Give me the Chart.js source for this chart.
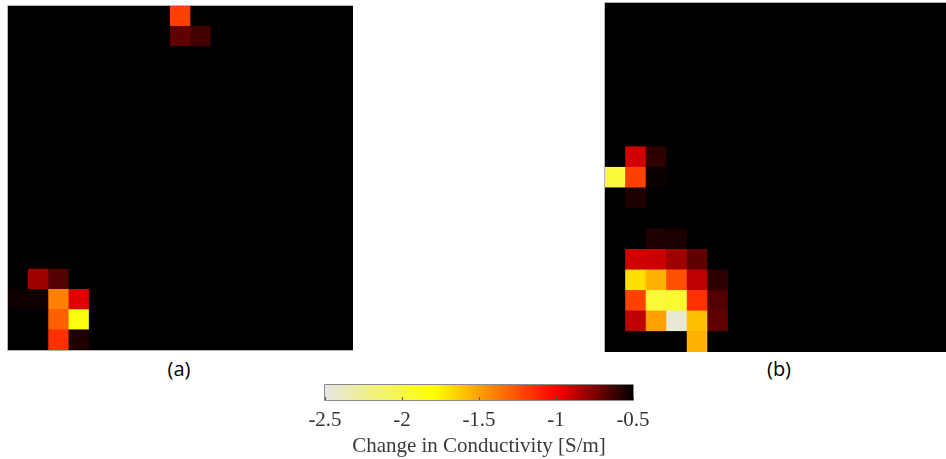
<!DOCTYPE html>
<html>
<head>
<meta charset="utf-8">
<script src="https://cdn.jsdelivr.net/npm/chart.js@4.4.1/dist/chart.umd.min.js"></script>
<style>
  html, body { margin:0; padding:0; background:#fff; }
  body { width:946px; height:459px; position:relative; overflow:hidden; }
  canvas { position:absolute; display:block; }
  .lbl { position:absolute; font-family:"Open Sans", sans-serif; font-size:20px; color:#000; transform:translate(-50%,-50%); white-space:nowrap; }
</style>
</head>
<body>
<canvas id="panelA" width="346" height="346" style="left:7px;top:5px;width:346px;height:346px"></canvas>
<canvas id="panelB" width="350" height="350" style="left:604px;top:2px;width:350px;height:350px"></canvas>
<canvas id="cbar" width="360" height="81" style="left:300px;top:380px;width:360px;height:81px"></canvas>
<div class="lbl" style="left:179px;top:368px">(a)</div>
<div class="lbl" style="left:779px;top:368px">(b)</div>
<script>
// ---------------- data ----------------
const gridSize = 17;                 // 17 x 17 cells per map
const backgroundValue = -0.5;        // value of every cell not listed below (S/m)

// Panel (a): column index, row index (0 = top), change in conductivity [S/m]
const aCol = [8, 8, 9, 1, 2, 0, 1, 2, 3, 2, 3, 2, 3];
const aRow = [0, 1, 1, 13, 13, 14, 14, 14, 14, 15, 15, 16, 16];
const aVal = [-1.20, -0.69, -0.63, -0.81, -0.66, -0.53, -0.53, -1.40, -0.94, -1.30, -1.84, -1.15, -0.56];

// Panel (b)
const bCol = [1, 2, 0, 1, 2, 1, 2, 3, 1, 2, 3, 4, 1, 2, 3, 4, 5, 1, 2, 3, 4, 5, 1, 2, 3, 4, 5, 4];
const bRow = [7, 7, 8, 8, 8, 9, 11, 11, 12, 12, 12, 12, 13, 13, 13, 13, 13, 14, 14, 14, 14, 14, 15, 15, 15, 15, 15, 16];
const bVal = [-0.91, -0.59, -1.97, -1.20, -0.52, -0.56, -0.56, -0.55, -0.91, -0.90, -0.81, -0.69,
              -1.69, -1.55, -1.25, -0.87, -0.59, -1.20, -1.97, -1.94, -1.15, -0.66,
              -0.87, -1.50, -2.45, -1.59, -0.69, -1.55];

// Colour bar
const cbMin = -2.5, cbMax = -0.5;
const cbTicks = [-2.5, -2, -1.5, -1, -0.5];
const cbTitle = 'Change in Conductivity [S/m]';

// colour map stops (value -> colour)
const cmapVals = [-2.5, -1.79, -1.0, -0.5];
const cmapCols = [[230,230,228], [255,255,0], [255,0,0], [0,0,0]];

// ---------------- helpers ----------------
function colorFor(v) {
  v = Math.max(cbMin, Math.min(cbMax, v));
  for (let i = 0; i < cmapVals.length - 1; i++) {
    const v0 = cmapVals[i], v1 = cmapVals[i+1];
    if (v >= v0 && v <= v1) {
      const t = (v - v0) / (v1 - v0);
      const c0 = cmapCols[i], c1 = cmapCols[i+1];
      const c = c0.map((x, k) => Math.round(x + (c1[k] - x) * t));
      return `rgb(${c[0]},${c[1]},${c[2]})`;
    }
  }
  return 'rgb(0,0,0)';
}

function buildGrid(cols, rows, vals) {
  const g = [];
  for (let r = 0; r < gridSize; r++) g.push(new Array(gridSize).fill(backgroundValue));
  cols.forEach((c, i) => { g[rows[i]][c] = vals[i]; });
  return g;
}

const framePlugin = {
  id: 'frame',
  beforeDatasetsDraw(chart, args, opts) {
    if (!opts.fill) return;
    const { ctx, chartArea: a } = chart;
    ctx.save();
    ctx.fillStyle = opts.fill;
    ctx.fillRect(a.left, a.top, a.right - a.left, a.bottom - a.top);
    ctx.restore();
  },
  afterDraw(chart, args, opts) {
    const { ctx, chartArea: a } = chart;
    ctx.save();
    ctx.strokeStyle = opts.color || '#aaa';
    ctx.lineWidth = 1;
    ctx.beginPath();
    const L = a.left - 0.5, R = a.right + 0.5, T = a.top - 0.5, B = a.bottom + 0.5;
    const s = opts.sides || [];
    if (s.includes('left'))   { ctx.moveTo(L, T); ctx.lineTo(L, B); }
    if (s.includes('top'))    { ctx.moveTo(L, T); ctx.lineTo(R, T); }
    if (s.includes('right'))  { ctx.moveTo(R, T); ctx.lineTo(R, B); }
    if (s.includes('bottom')) { ctx.moveTo(L, B); ctx.lineTo(R, B); }
    ctx.stroke();
    if (opts.tickMarks) {
      const sc = chart.scales.x;
      ctx.strokeStyle = opts.tickColor || '#444';
      ctx.beginPath();
      sc.ticks.forEach(t => {
        const x = Math.round(sc.getPixelForValue(t.value)) + 0.5;
        ctx.moveTo(x, a.bottom); ctx.lineTo(x, a.bottom - 3);
      });
      ctx.stroke();
    }
    ctx.restore();
  }
};

function makePanel(id, cols, rows, vals, padding, sides) {
  const grid = buildGrid(cols, rows, vals);
  const labels = Array.from({ length: gridSize }, (_, i) => String(i));
  const datasets = [];
  for (let i = 0; i < gridSize; i++) {
    const r = gridSize - 1 - i; // first dataset is the bottom row
    datasets.push({
      label: 'row ' + r,
      data: new Array(gridSize).fill(1),
      backgroundColor: grid[r].map(colorFor),
      borderWidth: 0,
      barPercentage: 1,
      categoryPercentage: 1
    });
  }
  new Chart(document.getElementById(id), {
    type: 'bar',
    data: { labels, datasets },
    options: {
      responsive: false,
      animation: false,
      devicePixelRatio: 1,
      layout: { padding },
      plugins: { legend: { display: false }, tooltip: { enabled: false },
                 frame: { sides, color: '#b4b4b4', fill: '#000' } },
      scales: {
        x: { stacked: true, display: false },
        y: { stacked: true, display: false, min: 0, max: gridSize }
      }
    },
    plugins: [framePlugin]
  });
}

makePanel('panelA', aCol, aRow, aVal, { left: 1, top: 1, bottom: 1, right: 0 }, ['left', 'top', 'bottom']);
makePanel('panelB', bCol, bRow, bVal, { left: 1, top: 1, bottom: 0, right: 0 }, ['left', 'top']);

// colour bar
const serif = '"Liberation Serif", "Times New Roman", serif';
new Chart(document.getElementById('cbar'), {
  type: 'bar',
  data: {
    labels: ['cb'],
    datasets: [{
      data: [[cbMin, cbMax]],
      borderWidth: 0,
      barPercentage: 1,
      categoryPercentage: 1,
      backgroundColor(ctx) {
        const ch = ctx.chart, a = ch.chartArea;
        if (!a) return '#000';
        const sc = ch.scales.x;
        const g = ch.ctx.createLinearGradient(sc.getPixelForValue(cbMin), 0, sc.getPixelForValue(cbMax), 0);
        cmapVals.forEach((v, i) => {
          g.addColorStop((v - cbMin) / (cbMax - cbMin), `rgb(${cmapCols[i].join(',')})`);
        });
        return g;
      }
    }]
  },
  options: {
    indexAxis: 'y',
    responsive: false,
    animation: false,
    devicePixelRatio: 1,
    layout: { padding: { left: 25, right: 27, top: 5, bottom: 1.7 } },
    plugins: {
      legend: { display: false }, tooltip: { enabled: false },
      frame: { sides: ['left', 'top', 'right', 'bottom'], color: '#8a8a8a', tickMarks: true, tickColor: '#555' }
    },
    scales: {
      x: {
        type: 'linear', min: cbMin, max: cbMax,
        afterBuildTicks(scale) { scale.ticks = cbTicks.map(v => ({ value: v })); },
        afterFit(scale) { scale.height = 59.3; },
        ticks: { padding: 7.4, maxRotation: 0, autoSkip: false, color: '#333',
                 font: { family: serif, size: 21 },
                 callback: v => String(v) },
        grid: { display: false, drawTicks: false },
        border: { display: false },
        title: { display: true, text: cbTitle, color: '#3a3a3a', padding: { top: 2.5, bottom: 0 },
                 font: { family: serif, size: 21 } }
      },
      y: { display: false }
    }
  },
  plugins: [framePlugin]
});
</script>
</body>
</html>
